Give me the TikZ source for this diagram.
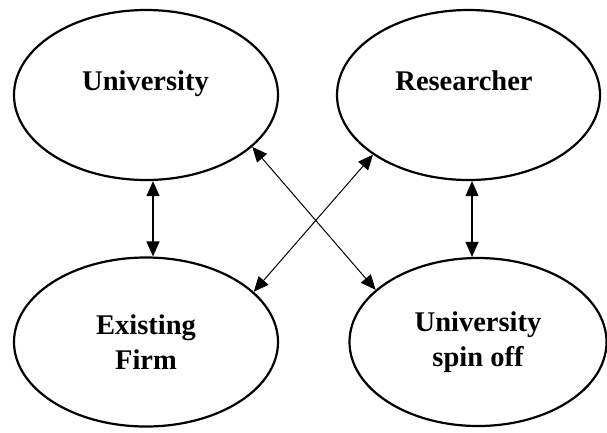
\documentclass[tikz,border=0pt]{standalone}
\usepackage{fontspec}
\setmainfont{Liberation Serif}
\usetikzlibrary{shapes.geometric,arrows.meta}
\tikzset{
  actor/.style={draw=black, line width=2.2pt, ellipse, inner sep=0pt,
    align=center, font=\bfseries\fontsize{28.5}{35}\selectfont},
  lbl/.style={inner sep=0pt, anchor=base, font=\bfseries\fontsize{28.5}{35}\selectfont},
  link/.style={line width=1.2pt, {Triangle[length=15pt,width=13pt]}-{Triangle[length=15pt,width=13pt]}},
  diag/.style={link, line width=1pt}
}
\begin{document}
\begin{tikzpicture}[x=1pt,y=-1pt]
\useasboundingbox (0,0) rectangle (607,432);
\node[actor, minimum width=264pt, minimum height=170pt] (uni) at (146,95) {};
\node[actor, minimum width=263pt, minimum height=170pt] (res) at (468.5,95) {};
\node[actor, minimum width=264pt, minimum height=169pt] (firm) at (146,342) {Existing\\Firm};
\node[actor, minimum width=257pt, minimum height=168pt] (spin) at (478,342) {University\\spin off};
\node[lbl] (unitext) at (145.5,90) {University};
\node[lbl] (restext) at (464,90) {Researcher};
\coordinate (lx) at (153,0);
\coordinate (rx) at (472,0);
\draw[link] (uni.south -| lx) -- (firm.north -| lx);
\draw[link] (res.south -| rx) -- (spin.north -| rx);
\draw[diag] (uni.334) -- (spin.153);
\draw[diag] (res.212) -- (firm.25);
\end{tikzpicture}
\end{document}
